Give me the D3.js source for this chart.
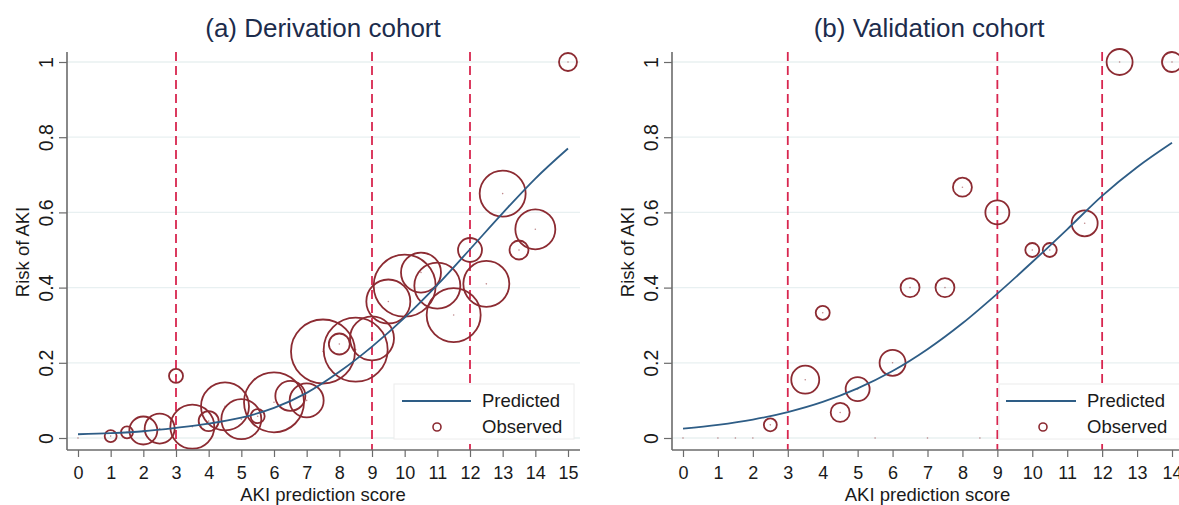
<!DOCTYPE html>
<html>
<head>
<meta charset="utf-8">
<script src="https://cdn.jsdelivr.net/npm/d3@7/dist/d3.min.js"></script>
<style>
  html, body { margin: 0; padding: 0; background: #fff; }
  svg { display: block; font-family: "Liberation Sans", Arial, sans-serif; }
</style>
</head>
<body>
<svg id="chart" width="1179" height="505"></svg>
<script>
// ---------------- DATA ----------------
const xTicksA = [0,1,2,3,4,5,6,7,8,9,10,11,12,13,14,15];
const xTicksB = [0,1,2,3,4,5,6,7,8,9,10,11,12,13,14];
const yTicks = [0, 0.2, 0.4, 0.6, 0.8, 1];
const cutPoints = [3, 9, 12];

// Derivation cohort: observed risk by score (bubble weight = n)
const obsScoreA = [0, 1, 1.5, 2, 2.5, 3, 3.5, 4, 4.5, 5, 5.5, 6, 6.5, 7, 7.5, 8, 8.5, 9, 9.5, 10, 10.5, 11, 11.5, 12, 12.5, 13, 13.5, 14, 15];
const obsRiskA  = [0, 0.005, 0.015, 0.02, 0.025, 0.165, 0.03, 0.045, 0.084, 0.05, 0.058, 0.095, 0.112, 0.10, 0.23, 0.25, 0.235, 0.265, 0.363, 0.405, 0.44, 0.405, 0.327, 0.50, 0.41, 0.65, 0.50, 0.555, 1.0];
const obsNA     = [0, 36, 36, 196, 225, 49, 484, 100, 576, 400, 49, 900, 225, 289, 1024, 110, 1024, 484, 484, 961, 400, 529, 729, 144, 529, 529, 90, 400, 81];

// Derivation cohort: predicted risk
const predScoreA = [0,1,2,3,4,5,6,7,8,9,10,11,12,13,14,15];
const predRiskA  = [0.010, 0.013, 0.018, 0.027, 0.038, 0.054, 0.080, 0.120, 0.176, 0.243, 0.320, 0.407, 0.502, 0.598, 0.690, 0.770];

// Validation cohort: observed
const obsScoreB = [0, 1, 1.5, 2, 2.5, 3.5, 4, 4.5, 5, 5.5, 6, 6.5, 7, 7.5, 8, 8.5, 9, 10, 10.5, 11.5, 12.5, 14];
const obsRiskB  = [0, 0, 0, 0, 0.035, 0.155, 0.333, 0.068, 0.13, 0, 0.20, 0.40, 0, 0.40, 0.667, 0, 0.60, 0.50, 0.50, 0.571, 1.0, 1.0];
const obsNB     = [0, 0, 0, 0, 42, 196, 49, 90, 144, 0, 169, 90, 0, 90, 90, 0, 144, 49, 49, 169, 169, 100];

// Validation cohort: predicted
const predScoreB = [0,1,2,3,4,5,6,7,8,9,10,11,12,13,14];
const predRiskB  = [0.025, 0.035, 0.049, 0.069, 0.096, 0.132, 0.178, 0.236, 0.305, 0.384, 0.468, 0.555, 0.644, 0.720, 0.785];

const titles = ["(a) Derivation cohort", "(b) Validation cohort"];
const xTitle = "AKI prediction score";
const yTitle = "Risk of AKI";
const legendLabels = ["Predicted", "Observed"];

// ---------------- STYLE ----------------
const C = {
  circle: "#8c2b32",
  line: "#2e5d86",
  dash: "#d8264f",
  grid: "#e8f0f1",
  axis: "#6b6b6b",
  text: "#1a1a1a",
  title: "#1c2c4c"
};

const svg = d3.select("#chart");
const rScale = d3.scaleSqrt().domain([0, 1024]).range([0, 32]);

const panels = [
  { title: titles[0], xTicks: xTicksA, xDom: [0, 15], xRange: [78, 568], axisLeft: 67, plotRight: 580,
    obsX: obsScoreA, obsY: obsRiskA, obsN: obsNA, predX: predScoreA, predY: predRiskA,
    titleX: 323, yTitleX: 23, tickLabX: 46,
    legend: { x0: 394, x1: 574, y0: 384, y1: 439, lineX0: 402, lineX1: 471, textX: 482, circX: 437 } },
  { title: titles[1], xTicks: xTicksB, xDom: [0, 14], xRange: [683, 1172], axisLeft: 672, plotRight: 1179,
    obsX: obsScoreB, obsY: obsRiskB, obsN: obsNB, predX: predScoreB, predY: predRiskB,
    titleX: 929, yTitleX: 628, tickLabX: 651,
    legend: { x0: 999, x1: 1190, y0: 384, y1: 439, lineX0: 1006, lineX1: 1076, textX: 1087, circX: 1043 } }
];

const yScale = d3.scaleLinear().domain([0, 1]).range([438, 62]);
const axisY = 450, axisTop = 52;

panels.forEach(p => {
  const x = d3.scaleLinear().domain(p.xDom).range(p.xRange);
  const g = svg.append("g");

  const clipId = "clip" + p.axisLeft;
  svg.append("clipPath").attr("id", clipId).append("rect")
    .attr("x", p.axisLeft).attr("y", axisTop - 10).attr("width", p.plotRight - p.axisLeft).attr("height", axisY - axisTop + 10);

  // gridlines
  g.append("g").selectAll("line").data(yTicks).join("line")
    .attr("x1", p.axisLeft).attr("x2", p.plotRight)
    .attr("y1", d => yScale(d)).attr("y2", d => yScale(d))
    .attr("stroke", C.grid).attr("stroke-width", 1.3);

  // dashed cut-point lines
  g.append("g").selectAll("line").data(cutPoints).join("line")
    .attr("x1", d => x(d)).attr("x2", d => x(d))
    .attr("y1", axisTop).attr("y2", axisY)
    .attr("stroke", C.dash).attr("stroke-width", 1.8)
    .attr("stroke-dasharray", "9,5");

  const plot = g.append("g").attr("clip-path", `url(#${clipId})`);

  // observed bubbles
  const obs = p.obsX.map((v, i) => ({ x: v, y: p.obsY[i], n: p.obsN[i] }));
  plot.append("g").selectAll("circle").data(obs.filter(d => d.n > 0)).join("circle")
    .attr("cx", d => x(d.x)).attr("cy", d => yScale(d.y))
    .attr("r", d => rScale(d.n))
    .attr("fill", "none").attr("stroke", C.circle).attr("stroke-width", 1.8);
  plot.append("g").selectAll("circle").data(obs).join("circle")
    .attr("cx", d => x(d.x)).attr("cy", d => yScale(d.y))
    .attr("r", 0.8).attr("fill", C.circle).attr("opacity", 0.55);

  // predicted curve
  const pred = p.predX.map((v, i) => [v, p.predY[i]]);
  plot.append("path").datum(pred)
    .attr("d", d3.line().x(d => x(d[0])).y(d => yScale(d[1])).curve(d3.curveMonotoneX))
    .attr("fill", "none").attr("stroke", C.line).attr("stroke-width", 1.8);

  // legend
  const L = p.legend;
  const lg = g.append("g");
  lg.append("rect").attr("x", L.x0).attr("y", L.y0).attr("width", L.x1 - L.x0).attr("height", L.y1 - L.y0)
    .attr("fill", "#fff").attr("stroke", "#ececec").attr("stroke-width", 1);
  lg.append("line").attr("x1", L.lineX0).attr("x2", L.lineX1).attr("y1", 401).attr("y2", 401)
    .attr("stroke", C.line).attr("stroke-width", 1.8);
  lg.append("circle").attr("cx", L.circX).attr("cy", 427).attr("r", 4)
    .attr("fill", "none").attr("stroke", C.circle).attr("stroke-width", 1.6);
  lg.selectAll("text").data(legendLabels).join("text")
    .attr("x", L.textX).attr("y", (d, i) => 401 + i * 26).attr("dy", "0.35em")
    .attr("font-size", 18.5).attr("fill", C.text).text(d => d);

  // x axis
  const xa = g.append("g").attr("transform", `translate(0,${axisY})`)
    .call(d3.axisBottom(x).tickValues(p.xTicks).tickSize(7).tickPadding(9).tickFormat(d3.format("d")));
  xa.select(".domain").remove();
  xa.append("line").attr("x1", p.axisLeft).attr("x2", p.plotRight).attr("y1", 0).attr("y2", 0)
    .attr("stroke", C.axis).attr("stroke-width", 1.6);
  xa.selectAll(".tick line").attr("stroke", C.axis).attr("stroke-width", 1.2);
  xa.selectAll(".tick text").attr("font-size", 18).attr("fill", C.text).attr("font-family", "Liberation Sans, Arial, sans-serif");

  // y axis
  const ya = g.append("g").attr("transform", `translate(${p.axisLeft},0)`)
    .call(d3.axisLeft(yScale).tickValues(yTicks).tickSize(8).tickFormat(d3.format("~g")));
  ya.select(".domain").remove();
  ya.append("line").attr("x1", 0).attr("x2", 0).attr("y1", axisTop).attr("y2", axisY)
    .attr("stroke", C.axis).attr("stroke-width", 1.6);
  ya.selectAll(".tick line").attr("stroke", C.axis).attr("stroke-width", 1.2);
  ya.selectAll(".tick text")
    .attr("x", 0).attr("dy", "0.35em")
    .attr("text-anchor", "middle")
    .attr("transform", `translate(${p.tickLabX - p.axisLeft},0) rotate(-90)`)
    .attr("font-size", 19.5).attr("fill", C.text).attr("font-family", "Liberation Sans, Arial, sans-serif");

  // titles
  g.append("text").attr("x", p.titleX).attr("y", 28).attr("dy", "0.35em")
    .attr("text-anchor", "middle").attr("font-size", 26).attr("fill", C.title).text(p.title);
  g.append("text").attr("x", (p.xRange[0] + p.xRange[1]) / 2).attr("y", 495).attr("dy", "0.35em")
    .attr("text-anchor", "middle").attr("font-size", 18.5).attr("fill", C.text).text(xTitle);
  g.append("text").attr("transform", `translate(${p.yTitleX},252) rotate(-90)`).attr("dy", "0.35em")
    .attr("text-anchor", "middle").attr("font-size", 18.5).attr("fill", C.text).text(yTitle);
});
</script>
</body>
</html>
